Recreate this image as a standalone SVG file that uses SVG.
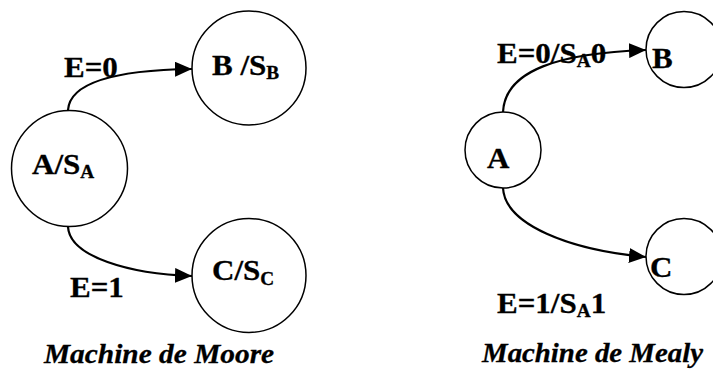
<svg xmlns="http://www.w3.org/2000/svg" width="713" height="370" viewBox="0 0 713 370">
<style>
.node{fill:#fff;stroke:#000;stroke-width:1.5}
.edge{fill:none;stroke:#000;stroke-width:2.2}
.t{font-weight:bold;font-size:29px;fill:#000;stroke:#000;stroke-width:0.3}
.title{font-style:italic;font-size:28px}
.sub{font-size:18px}
</style>
<defs>
<marker id="arr" markerUnits="userSpaceOnUse" markerWidth="18" markerHeight="15" refX="17" refY="7.5" orient="auto">
<path d="M0,0 L17,7.5 L0,15 z" fill="#000"/>
</marker>
</defs>
<g font-family="Liberation Serif, Times New Roman, Times, serif">
<g id="moore-A"><circle class="node" cx="69.5" cy="168.5" r="58"/><text class="t" transform="translate(32,174) scale(1.07,1)">A/S<tspan class="sub" dy="4">A</tspan></text></g>
<g id="moore-B"><circle class="node" cx="249" cy="68" r="57"/><text class="t" transform="translate(212,75) scale(1.07,1)">B /S<tspan class="sub" dy="4">B</tspan></text></g>
<g id="moore-C"><circle class="node" cx="249" cy="275.5" r="57"/><text class="t" transform="translate(212,280) scale(1.07,1)">C/S<tspan class="sub" dy="5">C</tspan></text></g>
<g id="mealy-A"><circle class="node" cx="503" cy="150" r="38"/><text class="t" transform="translate(487,168) scale(1.07,1)">A</text></g>
<g id="mealy-B"><circle class="node" cx="684" cy="49.5" r="38"/><text class="t" transform="translate(652,68) scale(1.07,1)">B</text></g>
<g id="mealy-C"><circle class="node" cx="684" cy="256.5" r="38"/><text class="t" transform="translate(650,277) scale(1.07,1)">C</text></g>
<g id="connectors">
<path class="edge" d="M68,110 C70,82 118,70 192,69" marker-end="url(#arr)"/>
<path class="edge" d="M68,227 C70,257 130,274 192,276" marker-end="url(#arr)"/>
<path class="edge" d="M503,112 C505,70 560,53 646,50" marker-end="url(#arr)"/>
<path class="edge" d="M503,188 C505,225 570,250 646,257" marker-end="url(#arr)"/>
</g>
<g id="labels">
<text class="t" transform="translate(64,77) scale(1.07,1)">E=0</text>
<text class="t" transform="translate(70,297) scale(1.07,1)">E=1</text>
<text class="t" transform="translate(497,63) scale(1.07,1)">E=0/S<tspan class="sub" dy="4">A</tspan><tspan dy="-4">0</tspan></text>
<text class="t" transform="translate(497,313) scale(1.07,1)">E=1/S<tspan class="sub" dy="4">A</tspan><tspan dy="-4">1</tspan></text>
<text class="t title" transform="translate(44,363) scale(1.05,1)">Machine de Moore</text>
<text class="t title" transform="translate(482,362) scale(1.03,1)">Machine de Mealy</text>
</g>
</g>
</svg>
